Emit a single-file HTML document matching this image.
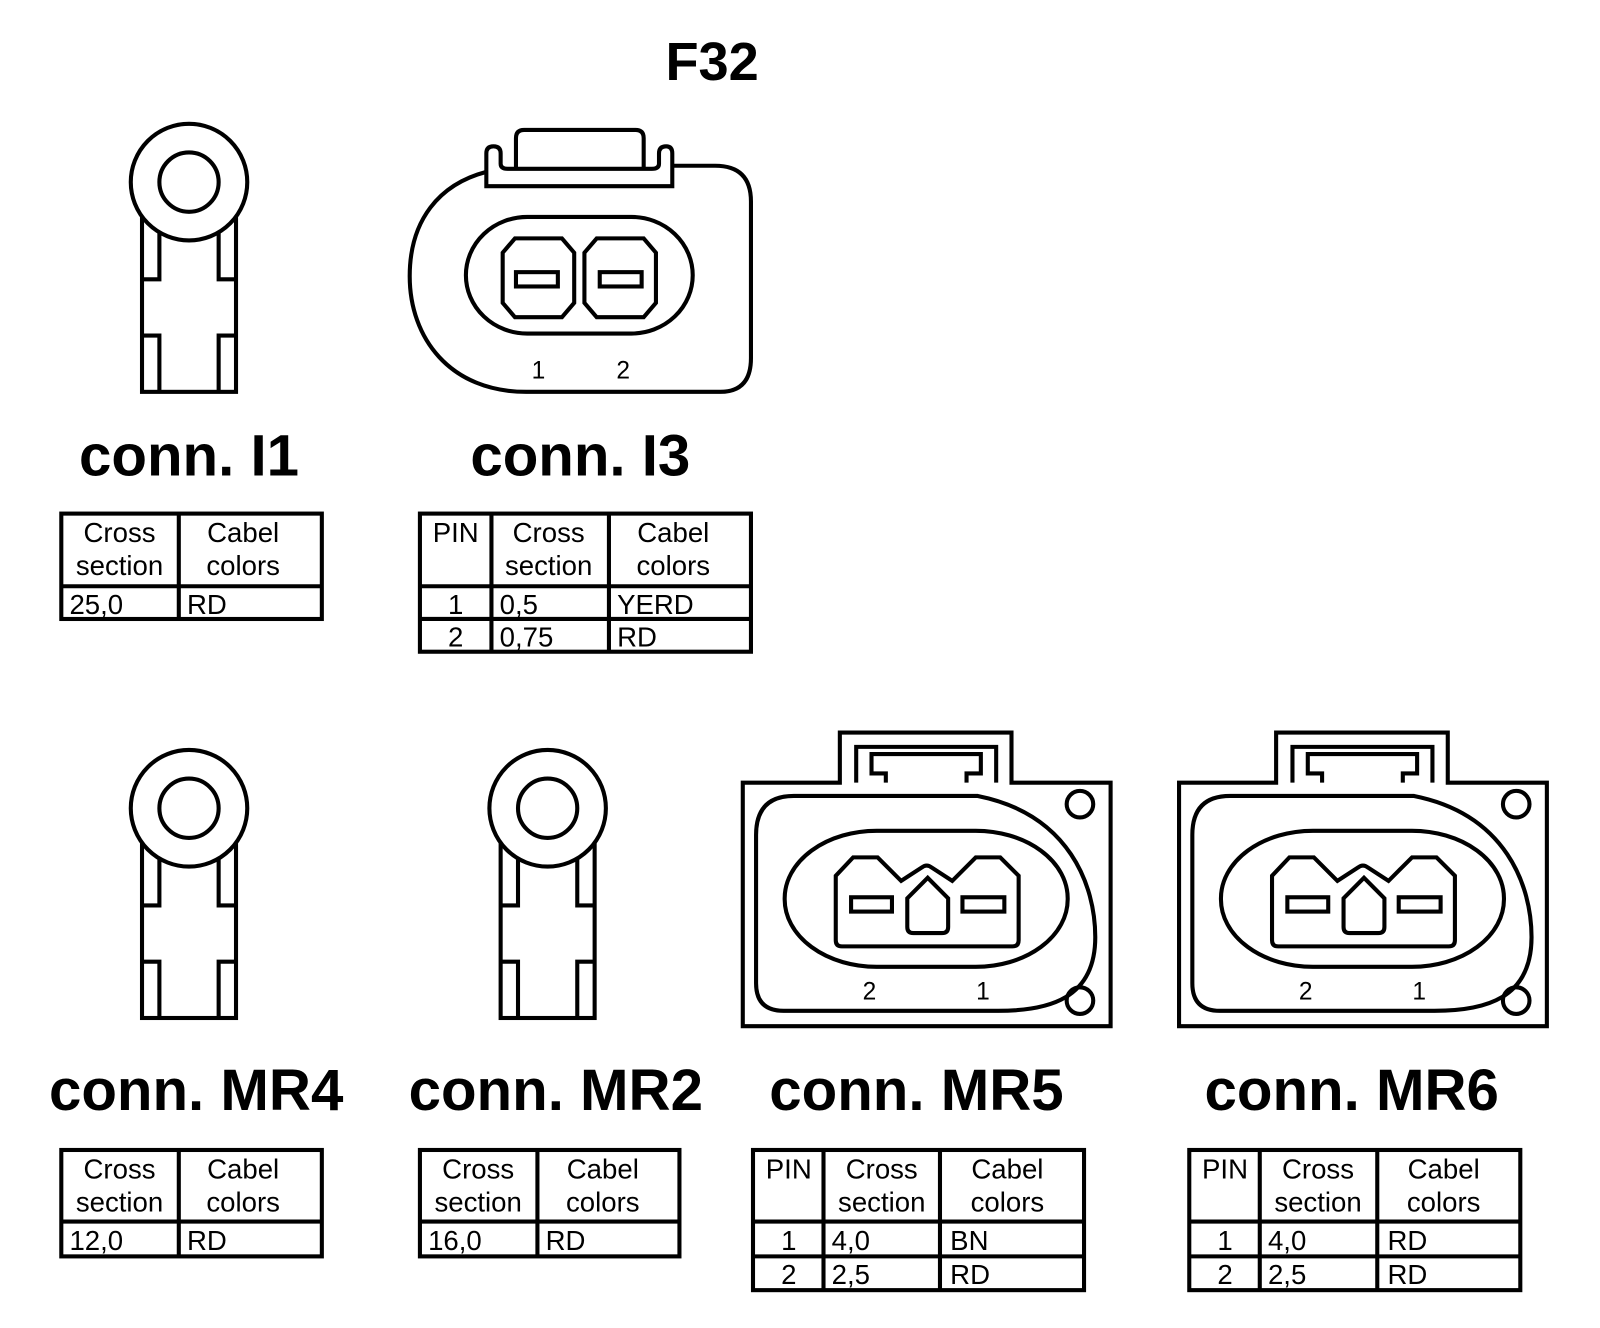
<!DOCTYPE html>
<html><head><meta charset="utf-8"><style>
html,body{margin:0;padding:0;background:#fff;}
svg{display:block;}
text{font-family:"Liberation Sans",sans-serif;fill:#000;}
.t{font-weight:bold;text-anchor:middle;}
.c{font-size:27px;}
.m{text-anchor:middle;}
</style></head><body>
<svg width="1600" height="1328" viewBox="0 0 1566 1298" preserveAspectRatio="none" xmlns="http://www.w3.org/2000/svg">
<defs>
<g id="lug" fill="#fff" stroke="#000" stroke-width="4">
  <rect x="-46" y="27" width="92" height="178"/>
  <path d="M-29,40 V95 H-46 M29,40 V95 H46 M-46,150 H-29 V205 M46,150 H29 V205" fill="none"/>
  <circle cx="0" cy="0" r="57"/>
  <circle cx="0" cy="0" r="29"/>
</g>
<g id="mr" fill="none" stroke="#000" stroke-width="4">
  <path d="M0,49 L95,49 L95,0 L263,0 L263,49 L360,49 L360,287 L0,287 Z"/>
  <path d="M111,49 L111,14 L248,14 L248,49 M140,49 L140,40 L126,40 L126,21 L233,21 L233,40 L219,40 L219,49"/>
  <path d="M13,100 Q13,62 50,62 L230,62 C320,80 345,150 345,200 C345,260 300,272 250,272 L40,272 Q13,272 13,245 Z"/>
  <circle cx="330" cy="70" r="13"/>
  <circle cx="330" cy="262" r="13"/>
  <rect x="41" y="96" width="277" height="133" rx="90" ry="66"/>
  <path d="M91,140 L108,122 L132,122 L155,145 L175,132 Q180,128 185,132 L205,145 L228,122 L252,122 L270,140 L270,203 Q270,209 264,209 L97,209 Q91,209 91,203 Z"/>
  <rect x="106" y="161" width="40" height="14"/>
  <rect x="215" y="161" width="41" height="14"/>
  <path d="M161,162 L181,142 L201,162 L201,190 Q201,196 195,196 L167,196 Q161,196 161,190 Z"/>
</g>
</defs>

<text x="697" y="78" class="t" font-size="53">F32</text>

<!-- I1 -->
<use href="#lug" x="185" y="178"/>
<text x="185" y="465" class="t" font-size="57">conn. I1</text>
<g fill="none" stroke="#000" stroke-width="4">
<rect x="60" y="502" width="255" height="103"/>
<path d="M60,573 H315 M175,502 V605"/>
</g>
<g class="c">
<text x="117" y="530" class="m">Cross</text><text x="117" y="562" class="m">section</text>
<text x="238" y="530" class="m">Cabel</text><text x="238" y="562" class="m">colors</text>
<text x="68" y="600">25,0</text><text x="183" y="600">RD</text>
</g>

<!-- I3 -->
<g fill="none" stroke="#000" stroke-width="4">
<path d="M658,162 L700,162 Q735,162 735,197 L735,350 Q735,383 705,383 L515,383 C440,383 401,330 401,270 C401,215 430,180 476,168"/>
<path d="M476,182 L476,150 Q476,143 483,143 Q490,143 490,150 L490,160 Q490,165 497,165 L638,165 Q645,165 645,160 L645,150 Q645,143 652,143 Q658,143 658,150 L658,182 Z"/>
<path d="M505,165 L505,135 Q505,127 513,127 L622,127 Q630,127 630,135 L630,165"/>
<rect x="456" y="212" width="222" height="114" rx="60" ry="57"/>
<path d="M504,233 L550,233 L562,247 L562,296 L550,310 L504,310 L492,296 L492,247 Z"/>
<path d="M584,233 L630,233 L642,247 L642,296 L630,310 L584,310 L572,296 L572,247 Z"/>
<rect x="505" y="266" width="41" height="14"/>
<rect x="587" y="266" width="41" height="14"/>
</g>
<text x="527" y="370" class="m" font-size="24">1</text>
<text x="610" y="370" class="m" font-size="24">2</text>
<text x="568" y="465" class="t" font-size="57">conn. I3</text>
<g fill="none" stroke="#000" stroke-width="4">
<rect x="411" y="502" width="324" height="135"/>
<path d="M411,573 H735 M411,605 H735 M481,502 V637 M596,502 V637"/>
</g>
<g class="c">
<text x="446" y="530" class="m">PIN</text>
<text x="537" y="530" class="m">Cross</text><text x="537" y="562" class="m">section</text>
<text x="659" y="530" class="m">Cabel</text><text x="659" y="562" class="m">colors</text>
<text x="446" y="600" class="m">1</text><text x="489" y="600">0,5</text><text x="604" y="600">YERD</text>
<text x="446" y="632" class="m">2</text><text x="489" y="632">0,75</text><text x="604" y="632">RD</text>
</g>

<!-- MR4 -->
<use href="#lug" x="185" y="790"/>
<text x="192" y="1085" class="t" font-size="57">conn. MR4</text>
<g fill="none" stroke="#000" stroke-width="4">
<rect x="60" y="1124" width="255" height="104"/>
<path d="M60,1194 H315 M175,1124 V1228"/>
</g>
<g class="c">
<text x="117" y="1152" class="m">Cross</text><text x="117" y="1184" class="m">section</text>
<text x="238" y="1152" class="m">Cabel</text><text x="238" y="1184" class="m">colors</text>
<text x="68" y="1222">12,0</text><text x="183" y="1222">RD</text>
</g>

<!-- MR2 -->
<use href="#lug" x="536" y="790"/>
<text x="544" y="1085" class="t" font-size="57">conn. MR2</text>
<g fill="none" stroke="#000" stroke-width="4">
<rect x="411" y="1124" width="254" height="104"/>
<path d="M411,1194 H665 M526,1124 V1228"/>
</g>
<g class="c">
<text x="468" y="1152" class="m">Cross</text><text x="468" y="1184" class="m">section</text>
<text x="590" y="1152" class="m">Cabel</text><text x="590" y="1184" class="m">colors</text>
<text x="419" y="1222">16,0</text><text x="534" y="1222">RD</text>
</g>

<!-- MR5 -->
<use href="#mr" x="727" y="716"/>
<text x="851" y="977" class="m" font-size="24">2</text>
<text x="962" y="977" class="m" font-size="24">1</text>
<text x="897" y="1085" class="t" font-size="57">conn. MR5</text>
<g fill="none" stroke="#000" stroke-width="4">
<rect x="737" y="1124" width="324" height="137"/>
<path d="M737,1194 H1061 M737,1228 H1061 M806,1124 V1261 M920,1124 V1261"/>
</g>
<g class="c">
<text x="772" y="1152" class="m">PIN</text>
<text x="863" y="1152" class="m">Cross</text><text x="863" y="1184" class="m">section</text>
<text x="986" y="1152" class="m">Cabel</text><text x="986" y="1184" class="m">colors</text>
<text x="772" y="1222" class="m">1</text><text x="814" y="1222">4,0</text><text x="930" y="1222">BN</text>
<text x="772" y="1255" class="m">2</text><text x="814" y="1255">2,5</text><text x="930" y="1255">RD</text>
</g>

<!-- MR6 -->
<use href="#mr" x="1154" y="716"/>
<text x="1278" y="977" class="m" font-size="24">2</text>
<text x="1389" y="977" class="m" font-size="24">1</text>
<text x="1323" y="1085" class="t" font-size="57">conn. MR6</text>
<g fill="none" stroke="#000" stroke-width="4">
<rect x="1164" y="1124" width="324" height="137"/>
<path d="M1164,1194 H1488 M1164,1228 H1488 M1233,1124 V1261 M1348,1124 V1261"/>
</g>
<g class="c">
<text x="1199" y="1152" class="m">PIN</text>
<text x="1290" y="1152" class="m">Cross</text><text x="1290" y="1184" class="m">section</text>
<text x="1413" y="1152" class="m">Cabel</text><text x="1413" y="1184" class="m">colors</text>
<text x="1199" y="1222" class="m">1</text><text x="1241" y="1222">4,0</text><text x="1358" y="1222">RD</text>
<text x="1199" y="1255" class="m">2</text><text x="1241" y="1255">2,5</text><text x="1358" y="1255">RD</text>
</g>
</svg>
</body></html>
